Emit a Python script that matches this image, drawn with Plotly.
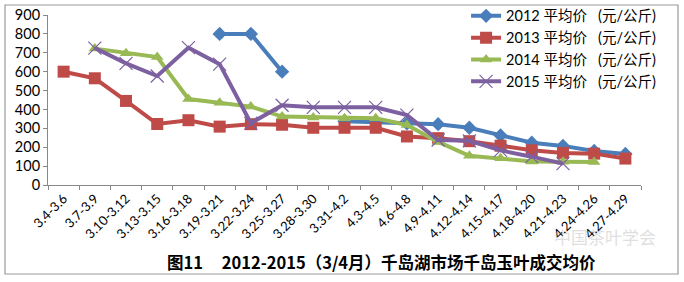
import plotly.graph_objects as go

categories = ["3.4-3.6", "3.7-3.9", "3.10-3.12", "3.13-3.15", "3.16-3.18", "3.19-3.21",
              "3.22-3.24", "3.25-3.27", "3.28-3.30", "3.31-4.2", "4.3-4.5", "4.6-4.8",
              "4.9-4.11", "4.12-4.14", "4.15-4.17", "4.18-4.20", "4.21-4.23", "4.24-4.26",
              "4.27-4.29"]

p2012 = [None, None, None, None, None, 800, 800, 600, None, 338, 332, 327, 322, 303, 262, 224, 207, 180, 164]
p2013 = [600, 565, 445, 323, 343, 309, 322, 319, 303, 303, 303, 257, 248, 232, 208, 184, 170, 166, 140]
p2014 = [None, 722, 697, 677, 455, 436, 415, 362, 358, 353, 353, 318, 228, 155, 141, 124, 123, 122, None]
p2015 = [None, 725, 644, 577, 727, 640, 327, 422, 411, 411, 411, 370, 238, 234, 183, 150, 113, None, None]

NB = "\u00a0"
names = ["2012 平均价" + NB * 3 + "(元/公斤)", "2013 平均价" + NB * 3 + "(元/公斤)",
         "2014 平均价" + NB * 3 + "(元/公斤)", "2015 平均价" + NB * 3 + "(元/公斤)"]
y_ticks = [0, 100, 200, 300, 400, 500, 600, 700, 800, 900]
title_text = "图11" + NB * 5 + "2012-2015（3/4月）千岛湖市场千岛玉叶成交均价"
watermark = "中国茶叶学会"

colors = ["#4A7EBB", "#BE4B48", "#98B954", "#7D60A0"]
symbols = ["diamond", "square", "triangle-up", "x-thin-open"]
msizes = [11, 12, 11, 13]

fig = go.Figure()
for vals, name, c, s, ms in zip([p2012, p2013, p2014, p2015], names, colors, symbols, msizes):
    marker = dict(symbol=s, size=ms, color=c)
    if s == "x-thin-open":
        marker = dict(symbol=s, size=ms, color=c, line=dict(width=1.2, color="#6F5A8C"))
    fig.add_trace(go.Scatter(x=categories, y=vals, name=name, mode="lines+markers",
                             line=dict(color=c, width=4), marker=marker,
                             connectgaps=False))

font_cjk = "Lato, 'Noto Sans CJK SC', sans-serif"

fig.update_layout(
    width=684, height=282,
    margin=dict(l=48, r=43, t=15, b=97, autoexpand=False),
    paper_bgcolor="white", plot_bgcolor="white",
    showlegend=True,
    legend=dict(x=0.705, y=1.089, xanchor="left", yanchor="top",
                bgcolor="rgba(0,0,0,0)", font=dict(family=font_cjk, size=14.5, color="#000"),
                itemwidth=30, tracegroupgap=0, traceorder="normal"),
    font=dict(family=font_cjk, color="#000"),
    xaxis=dict(type="category", tickson="boundaries", ticks="outside", ticklen=4,
               tickcolor="#888", showline=True, linecolor="#888", linewidth=1,
               showgrid=False, tickangle=-45, tickfont=dict(size=13, family=font_cjk),
               range=[-0.5, len(categories) - 0.5]),
    yaxis=dict(range=[0, 900], tickvals=y_ticks, ticks="outside", ticklen=4,
               tickcolor="#888", showline=True, linecolor="#888", linewidth=1,
               showgrid=False, zeroline=False, tickfont=dict(size=14.5, family=font_cjk)),
)

# outer chart border
fig.add_shape(type="rect", xref="paper", yref="paper",
              x0=-0.0725, x1=1.0624, y0=-0.5235, y1=1.0588,
              line=dict(color="#999", width=1.2), fillcolor="rgba(0,0,0,0)", layer="below")

fig.add_annotation(text=title_text, xref="paper", yref="paper", x=0.562, y=-0.45,
                   xanchor="center", yanchor="middle", showarrow=False,
                   font=dict(family="'Noto Sans CJK SC', sans-serif", size=16.5, color="#000", weight="bold"))

fig.add_annotation(text=watermark, xref="paper", yref="paper", x=0.94, y=-0.305,
                   xanchor="center", yanchor="middle", showarrow=False, opacity=0.3,
                   font=dict(family="'Noto Sans CJK SC', sans-serif", size=17, color="#999"))

fig.write_html("out.html")
